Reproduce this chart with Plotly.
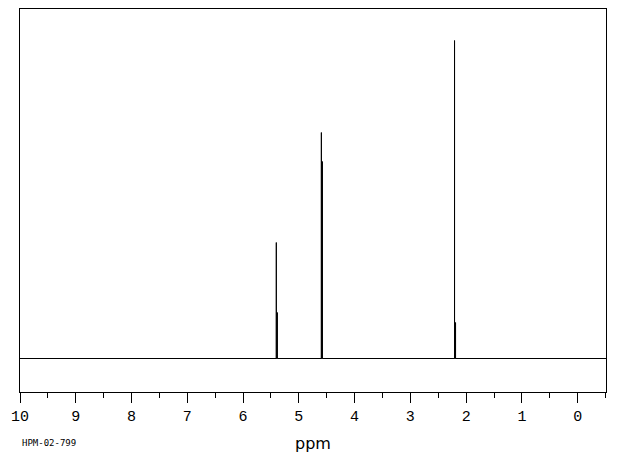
import plotly.graph_objects as go

# Peak positions (ppm) and intensities (relative units)
shifts = [5.404, 5.386, 4.596, 4.578, 2.208, 2.190]
intensities = [116, 46, 226, 197, 318, 36]
tick_vals = [10, 9, 8, 7, 6, 5, 4, 3, 2, 1, 0]
tick_text = [str(v) for v in tick_vals]
x_start, x_end = 10.0, -0.508

# Build stick spectrum with baseline
xs = [x_start]
ys = [0]
for s, h in sorted(zip(shifts, intensities), key=lambda p: -p[0]):
    xs += [s, s, s]
    ys += [0, h, 0]
xs.append(x_end)
ys.append(0)

fig = go.Figure()
fig.add_trace(go.Scatter(x=xs, y=ys, mode="lines",
                         line=dict(color="black", width=1),
                         hoverinfo="skip", showlegend=False))

# page body has an 8px default margin; compensate in figure size/margins
fig.update_layout(
    width=612, height=447,
    margin=dict(l=12, r=14, t=1, b=63),
    paper_bgcolor="white", plot_bgcolor="white",
    showlegend=False,
    xaxis=dict(
        range=[x_start, x_end],
        tickvals=tick_vals, ticktext=tick_text,
        ticks="outside", ticklen=10, tickwidth=1, tickcolor="black",
        minor=dict(dtick=0.5, tick0=0, ticks="outside", ticklen=5,
                   tickwidth=1, tickcolor="black", showgrid=False),
        showline=True, linecolor="black", linewidth=1, mirror=True,
        showgrid=False, zeroline=False,
        tickfont=dict(family="Liberation Mono", size=15, color="black"),
        title=dict(text="ppm", font=dict(family="DejaVu Sans", size=16, color="black"), standoff=12),
    ),
    yaxis=dict(
        range=[-33.5, 349.5],
        showticklabels=False, ticks="",
        showline=True, linecolor="black", linewidth=1, mirror=True,
        showgrid=False, zeroline=False,
    ),
    annotations=[dict(text="HPM-02-799", xref="paper", yref="paper",
                      x=0, y=(392 - 443) / 383,
                      xanchor="left", yanchor="middle", showarrow=False,
                      font=dict(family="DejaVu Sans Mono", size=9, color="black"))],
)

fig.write_html("out.html")
